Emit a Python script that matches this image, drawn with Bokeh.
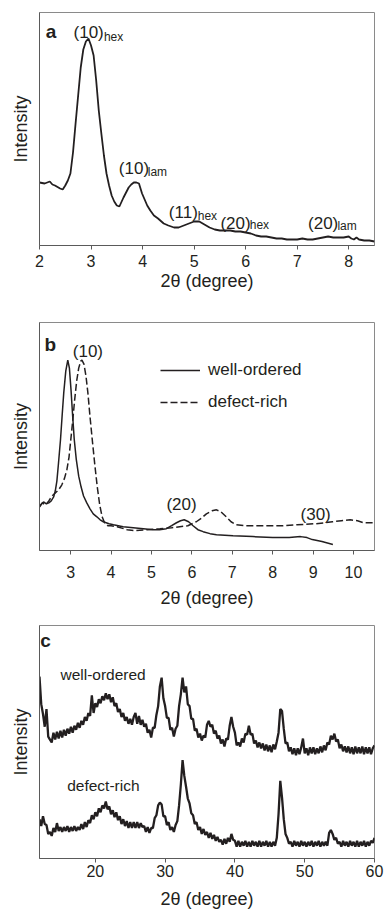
from bokeh.plotting import figure
from bokeh.layouts import column
from bokeh.models import Label, Legend, LegendItem, FixedTicker, Range1d
from bokeh.embed import file_html
from bokeh.resources import INLINE

FONT = "Liberation Sans"
INK = "#231f20"
AXIS = "#5a5a5a"

# ---------------- panel a data ----------------
a_two_theta = [2.00, 2.10, 2.20, 2.25, 2.30, 2.40, 2.45, 2.50, 2.55, 2.60, 2.65, 2.70, 2.75,
               2.80, 2.85, 2.90, 2.95, 3.00, 3.05, 3.10, 3.15, 3.20, 3.25, 3.30, 3.35, 3.40,
               3.45, 3.50, 3.55, 3.63, 3.68, 3.73, 3.78, 3.83, 3.88, 3.93, 3.99, 4.04, 4.09,
               4.15, 4.22, 4.30, 4.41, 4.50, 4.61, 4.70, 4.80, 4.90, 5.00, 5.10, 5.20, 5.30,
               5.40, 5.50, 5.60, 5.70, 5.80, 5.90, 6.00, 6.10, 6.20, 6.30, 6.40, 6.50, 6.60,
               6.70, 6.80, 6.90, 7.00, 7.10, 7.20, 7.30, 7.40, 7.50, 7.60, 7.70, 7.80, 7.90,
               8.00, 8.05, 8.10, 8.15, 8.20, 8.30, 8.40, 8.50]
a_intensity = [63, 62, 64, 61, 60, 57, 56, 60, 65, 72, 93, 122, 150,
               178, 196, 204, 207, 200, 190, 165, 135, 112, 90, 72, 60, 50,
               44, 40, 39, 48, 53, 58, 61, 63, 63, 62, 52, 46, 40,
               35, 30, 27, 22, 20, 18, 18, 20, 22, 24, 24, 21, 18,
               16, 15, 15, 15, 14, 14, 13, 12, 10, 9, 9, 8, 7,
               7, 6, 6, 6, 7, 6, 6, 7, 8, 9, 8, 8, 8,
               9, 7, 6, 8, 6, 5, 5, 4]

# ---------------- panel b data ----------------
b_wo_two_theta = [2.23, 2.28, 2.33, 2.40, 2.46, 2.52, 2.58, 2.62, 2.66, 2.70, 2.75, 2.79, 2.83,
                  2.88, 2.93, 2.97, 3.01, 3.05, 3.09, 3.14, 3.20, 3.26, 3.32, 3.40, 3.48, 3.56,
                  3.65, 3.73, 3.81, 3.95, 4.06, 4.30, 4.55, 4.80, 5.04, 5.20, 5.37, 5.50, 5.62,
                  5.72, 5.81, 5.92, 6.03, 6.15, 6.28, 6.45, 6.61, 7.02, 7.51, 8.00, 8.41, 8.69,
                  8.85, 8.98, 9.22, 9.49]
b_wo_intensity = [44, 47, 49, 47, 48, 50, 54, 60, 70, 88, 112, 136, 159,
                  181, 192, 184, 162, 136, 112, 92, 75, 64, 55, 48, 42, 37,
                  34, 31, 29, 27, 26, 24, 23, 22, 21, 21, 22, 25, 28,
                  30, 31, 29, 25, 21, 19, 17, 16, 15, 14, 13, 13, 14,
                  13, 11, 9, 6]
b_dr_two_theta = [2.23, 2.30, 2.38, 2.46, 2.54, 2.62, 2.70, 2.78, 2.85, 2.91, 2.96, 3.00, 3.05,
                  3.10, 3.15, 3.20, 3.25, 3.28, 3.33, 3.38, 3.43, 3.48, 3.54, 3.60, 3.66, 3.72,
                  3.78, 3.84, 3.92, 4.00, 4.15, 4.40, 4.60, 4.90, 5.21, 5.50, 5.70, 5.90, 6.11,
                  6.25, 6.36, 6.50, 6.61, 6.72, 6.85, 6.97, 7.10, 7.30, 7.51, 8.00, 8.25, 8.60,
                  9.07, 9.30, 9.48, 9.70, 9.92, 10.10, 10.25, 10.40, 10.52]
b_dr_intensity = [44, 48, 46, 50, 55, 58, 61, 66, 73, 82, 94, 110, 130,
                  152, 171, 184, 191, 192, 188, 176, 158, 135, 110, 86, 64, 46,
                  34, 28, 25, 25, 24, 21, 20, 21, 22, 23, 24, 25, 29,
                  33, 37, 40, 41, 39, 34, 29, 26, 25, 25, 25, 25, 26,
                  27, 28, 29, 30, 31, 30, 28, 28, 28]

# ---------------- panel c data ----------------
c_two_theta = [12 + 0.25 * i for i in range(193)]
c_well_ordered = [185, 157, 147, 134, 152, 124, 121, 118,
                  128, 121, 129, 122, 130, 123, 131, 125,
                  132, 127, 134, 128, 135, 131, 138, 133,
                  140, 136, 144, 140, 148, 145, 166, 148,
                  158, 154, 162, 158, 165, 161, 168, 162,
                  167, 159, 164, 155, 158, 149, 152, 144,
                  148, 140, 144, 137, 142, 136, 144, 148,
                  137, 145, 136, 141, 134, 137, 128, 131,
                  123, 133, 133, 146, 155, 175, 184, 163,
                  155, 143, 143, 131, 133, 124, 132, 135,
                  155, 167, 184, 169, 175, 157, 155, 142,
                  142, 130, 132, 123, 127, 120, 125, 123,
                  136, 140, 134, 136, 127, 130, 122, 125,
                  117, 121, 114, 122, 121, 135, 144, 134,
                  128, 115, 118, 114, 122, 118, 127, 126,
                  135, 126, 127, 117, 120, 113, 118, 112,
                  117, 110, 116, 109, 115, 108, 116, 111,
                  119, 128, 152, 150, 132, 117, 118, 109,
                  113, 106, 112, 105, 112, 106, 113, 122,
                  107, 112, 105, 113, 107, 113, 106, 112,
                  107, 114, 108, 115, 110, 118, 116, 125,
                  121, 127, 119, 121, 112, 116, 109, 114,
                  108, 114, 107, 113, 106, 114, 107, 113,
                  107, 114, 106, 113, 107, 113, 106, 112,
                  115]
c_defect_rich = [40, 33, 43, 35, 34, 25, 27, 23,
                 31, 27, 36, 28, 32, 27, 32, 28,
                 33, 27, 32, 28, 33, 28, 32, 29,
                 35, 30, 37, 32, 39, 36, 44, 40,
                 47, 43, 51, 47, 54, 51, 58, 50,
                 53, 45, 49, 42, 47, 39, 43, 35,
                 40, 33, 38, 31, 37, 31, 37, 31,
                 37, 31, 36, 32, 33, 27, 32, 26,
                 31, 31, 41, 44, 54, 57, 55, 43,
                 43, 34, 37, 29, 32, 27, 34, 38,
                 54, 75, 100, 84, 73, 61, 56, 46,
                 44, 35, 37, 29, 32, 25, 30, 24,
                 27, 21, 26, 20, 24, 18, 22, 17,
                 19, 14, 20, 15, 21, 17, 25, 19,
                 18, 12, 18, 12, 17, 13, 18, 12,
                 17, 12, 18, 13, 17, 12, 18, 12,
                 17, 13, 18, 12, 17, 12, 17, 13,
                 21, 45, 79, 62, 40, 25, 21, 15,
                 17, 12, 18, 13, 17, 12, 18, 13,
                 17, 12, 17, 13, 18, 12, 17, 13,
                 18, 12, 17, 13, 17, 13, 26, 29,
                 25, 19, 21, 15, 17, 12, 18, 13,
                 17, 12, 18, 13, 17, 12, 18, 12,
                 17, 13, 18, 12, 17, 13, 18, 16,
                 21]

a_ticks = [2, 3, 4, 5, 6, 7, 8]
b_ticks = [3, 4, 5, 6, 7, 8, 9, 10]
c_ticks = [20, 30, 40, 50, 60]
x_title = "2\u03b8 (degree)"
y_title = "Intensity"


def make_fig(height, xr, yr, ticks, top, right, bottom, lab_standoff, title_standoff):
    p = figure(width=385, height=height, x_range=Range1d(*xr), y_range=Range1d(*yr),
               output_backend="svg", toolbar_location=None,
               min_border_left=39, min_border_right=right,
               min_border_top=top, min_border_bottom=bottom)
    p.grid.visible = False
    p.outline_line_color = "#8a8a8a"
    p.outline_line_width = 1
    p.background_fill_color = "white"
    p.border_fill_color = "white"

    xa = p.xaxis[0]
    xa.ticker = FixedTicker(ticks=ticks)
    xa.major_tick_out = 4
    xa.major_tick_in = 0
    xa.minor_tick_out = 0
    xa.minor_tick_in = 0
    xa.axis_line_color = AXIS
    xa.major_tick_line_color = AXIS
    xa.major_label_text_font = FONT
    xa.major_label_text_font_size = "16px"
    xa.major_label_text_color = INK
    xa.major_label_standoff = lab_standoff
    xa.axis_label = x_title
    xa.axis_label_text_font = FONT
    xa.axis_label_text_font_size = "18px"
    xa.axis_label_text_font_style = "normal"
    xa.axis_label_text_color = INK
    xa.axis_label_standoff = title_standoff

    ya = p.yaxis[0]
    ya.ticker = FixedTicker(ticks=[])
    ya.major_tick_out = 0
    ya.major_tick_in = 0
    ya.minor_tick_out = 0
    ya.minor_tick_in = 0
    ya.axis_line_color = AXIS
    ya.axis_label = y_title
    ya.axis_label_text_font = FONT
    ya.axis_label_text_font_size = "18px"
    ya.axis_label_text_font_style = "normal"
    ya.axis_label_text_color = INK
    ya.axis_label_standoff = 9
    return p


def add_text(p, x, y, text, size, bold=False):
    p.add_layout(Label(x=x, y=y, text=text, text_font=FONT, text_font_size=size,
                       text_font_style="bold" if bold else "normal",
                       text_color=INK, text_align="left", text_baseline="alphabetic"))


# ---------------- panel a ----------------
pa = make_fig(300, (2, 8.5), (0, 233), a_ticks, 12, 11, 55, 5, 1)
pa.line(a_two_theta, a_intensity, line_color=INK, line_width=1.8)
add_text(pa, 2.12, 214.5, "a", "19px", bold=True)
add_text(pa, 2.66, 212.7, "(10)", "17px")
add_text(pa, 3.25, 208.3, "hex", "12px")
add_text(pa, 3.54, 76.7, "(10)", "17px")
add_text(pa, 4.10, 73.3, "lam", "12px")
add_text(pa, 4.51, 32.7, "(11)", "17px")
add_text(pa, 5.07, 30.0, "hex", "12px")
add_text(pa, 5.51, 22.3, "(20)", "17px")
add_text(pa, 6.08, 21.0, "hex", "12px")
add_text(pa, 7.21, 22.3, "(20)", "17px")
add_text(pa, 7.78, 20.0, "lam", "12px")

# ---------------- panel b ----------------
pb = make_fig(310, (2.23, 10.52), (0, 230), b_ticks, 22, 9, 58, 11, 7)
r_wo = pb.line(b_wo_two_theta, b_wo_intensity, line_color=INK, line_width=1.5)
r_dr = pb.line(b_dr_two_theta, b_dr_intensity, line_color=INK, line_width=1.5, line_dash="7 3")
add_text(pb, 2.353, 208, "b", "19px", bold=True)
add_text(pb, 3.054, 201, "(10)", "17px")
add_text(pb, 5.37, 46, "(20)", "17px")
add_text(pb, 8.69, 36, "(30)", "17px")
legend = Legend(items=[LegendItem(label="well-ordered", renderers=[r_wo]),
                       LegendItem(label="defect-rich", renderers=[r_dr])],
                location=(121, 138), glyph_width=40, glyph_height=20, label_height=20,
                spacing=12, label_standoff=8, padding=0, margin=0,
                border_line_color=None, background_fill_alpha=0,
                label_text_font=FONT, label_text_font_size="17px", label_text_color=INK)
pb.add_layout(legend)

# ---------------- panel c ----------------
pc = make_fig(301, (12, 60), (0, 237), c_ticks, 15, 9, 49, 2, 9)
pc.line(c_two_theta, c_well_ordered, line_color=INK, line_width=2.3)
pc.line(c_two_theta, c_defect_rich, line_color=INK, line_width=2.3)
add_text(pc, 12.1, 222, "c", "19px", bold=True)
add_text(pc, 15.0, 187, "well-ordered", "15.5px")
add_text(pc, 15.97, 74, "defect-rich", "15.5px")

layout = column(pa, pb, pc, spacing=0)
open("out.html", "w").write(file_html(layout, INLINE))
